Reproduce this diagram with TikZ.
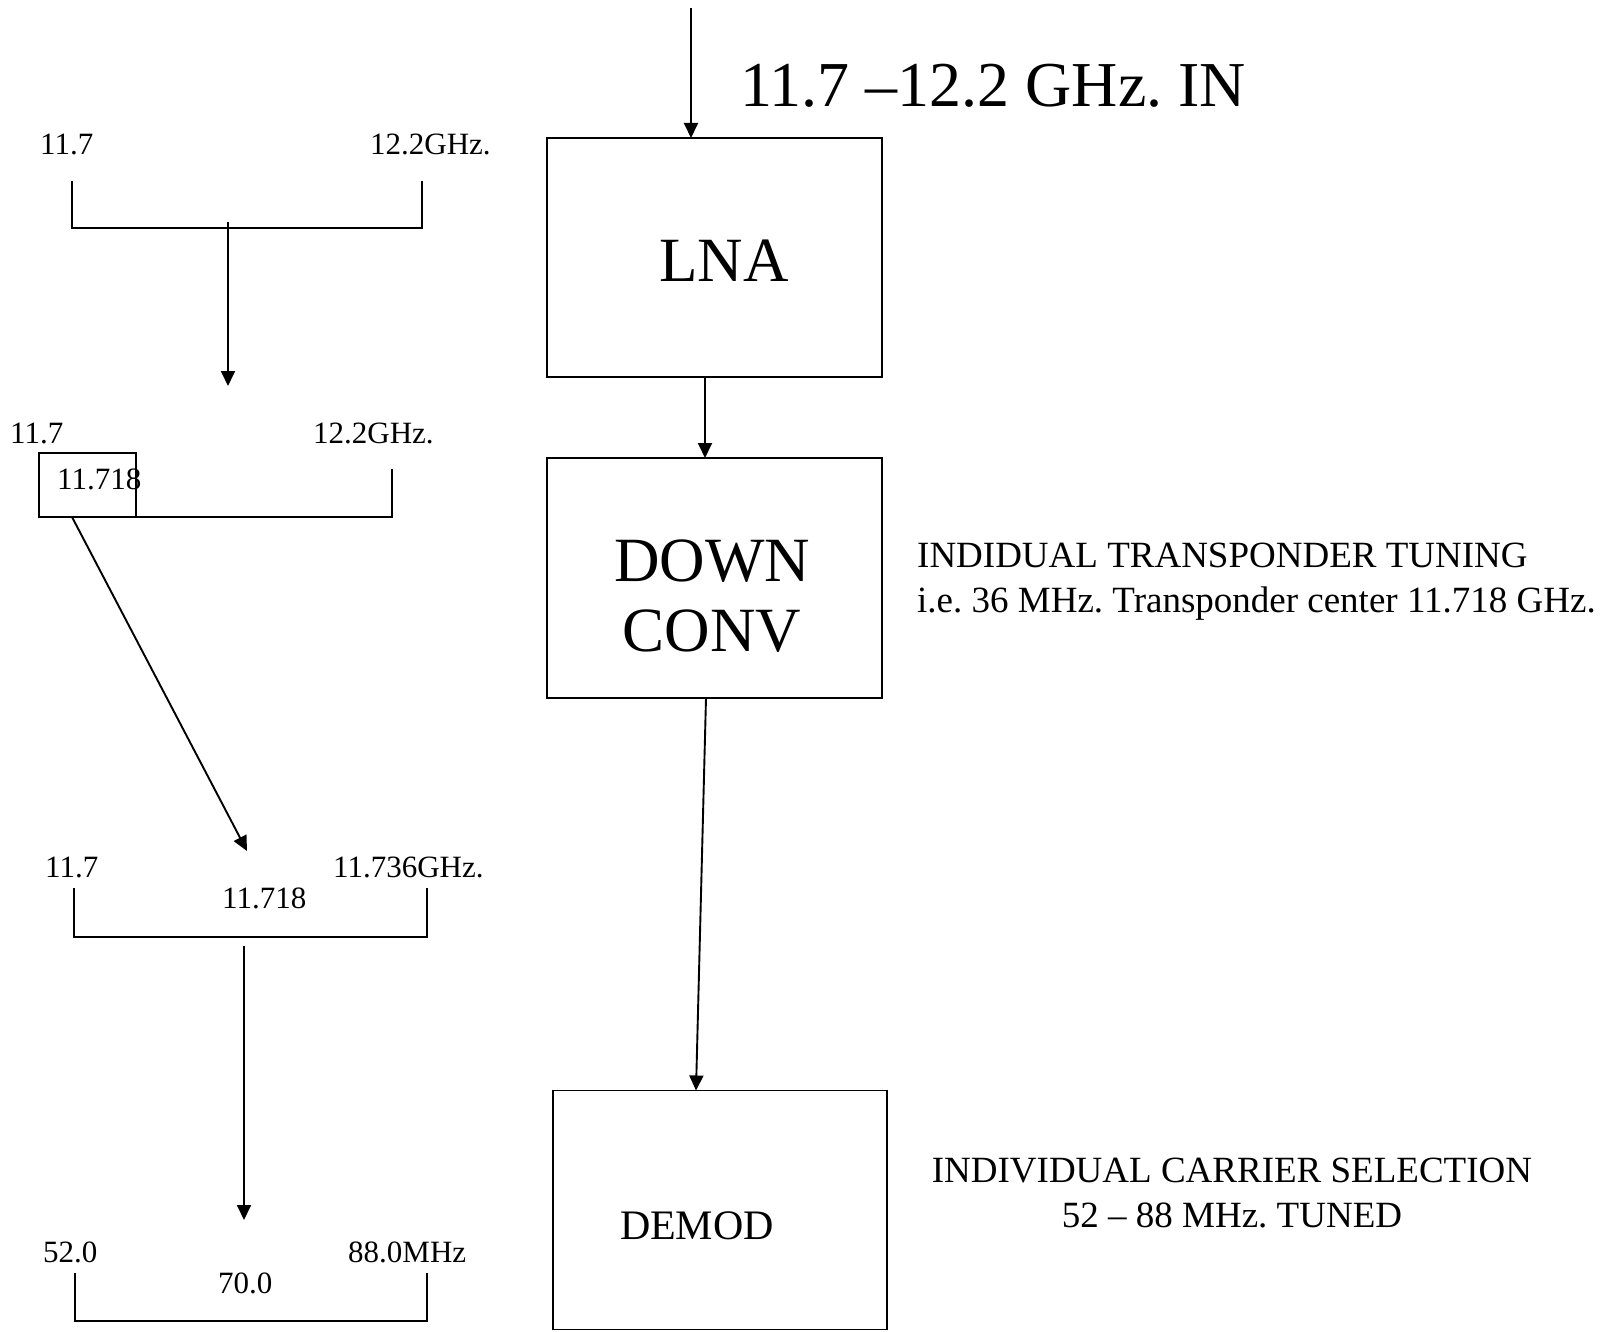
\documentclass[tikz,border=0pt]{standalone}
\usepackage{fontspec}
\setmainfont{Liberation Serif}
\usetikzlibrary{arrows.meta}
\frenchspacing
\newcommand{\fsz}[1]{\fontsize{#1}{#1}\selectfont\frenchspacing}
\tikzset{
  ln/.style={line width=1.9pt},
  arr/.style={line width=1.9pt,-{Triangle[length=15pt,width=14pt]}},
  blockbox/.style={draw,line width=1.9pt,inner sep=0pt,outer sep=0pt},
  small/.style={anchor=base west,inner sep=0pt,font=\fsz{31}},
  note/.style={anchor=base west,inner sep=0pt,font=\fsz{37}},
  big/.style={anchor=base,inner sep=0pt,font=\fsz{63}}
}
\begin{document}
\begin{tikzpicture}[x=1pt,y=-1pt]
\useasboundingbox (0,0) rectangle (1612,1332);

% ---- right chain ----
\node[blockbox,minimum width=335pt,minimum height=239pt] (lna) at (714.5,257.5) {};
\node[blockbox,minimum width=335pt,minimum height=240pt] (dc) at (714.5,578) {};
\node[blockbox,minimum width=334pt,minimum height=239pt] (dm) at (720,1210) {};

\node[big] (tlna) at (724,282) {LNA};
\node[big] (tdown) at (712,581) {DOWN};
\node[big] (tconv) at (712,651) {CONV};
\node[anchor=base,inner sep=0pt,font=\fsz{42}] (tdm) at (697,1239) {DEMOD};

\node[anchor=base west,inner sep=0pt,font=\fsz{64}] (tin) at (740,107) {11.7 –12.2 GHz. IN};

\coordinate (in) at (691,8);
\draw[arr] (in) -- (in |- lna.north);
\draw[arr] ([xshift=-9.5pt]lna.south) -- ([xshift=-9.5pt]dc.north);
\draw[arr] ([xshift=-8.5pt]dc.south) -- ([xshift=-24pt]dm.north);

\node[note] (n1) at (917,567) {INDIDUAL TRANSPONDER TUNING};
\node[note] (n2) at (917,612) {i.e. 36 MHz. Transponder center 11.718 GHz.};
\node[anchor=base,inner sep=0pt,font=\fsz{37}] (n3) at (1232,1182) {INDIVIDUAL CARRIER SELECTION};
\node[anchor=base,inner sep=0pt,font=\fsz{37}] (n4) at (1232,1227) {52 – 88 MHz. TUNED};

% ---- left column ----
% bracket 1
\node[small] (a1) at (40,155) {11.7};
\node[small] (a2) at (370,155) {12.2GHz.};
\draw[ln] (72,181) -- (72,228) -- (422,228) -- (422,181);
\coordinate (b1s) at (228,222);
\coordinate (b1e) at (228,386);
\draw[arr] (b1s) -- (b1e);

% bracket 2
\node[small] (c1) at (10,443) {11.7};
\node[small] (c2) at (313,443) {12.2GHz.};
\node[blockbox,minimum width=97pt,minimum height=64pt] (sel) at (87.5,485) {};
\node[small] (c3) at (57,489) {11.718};
\draw[ln] (sel.south east) -- (392,517) -- (392,469);
\coordinate (d1s) at (72,517);
\coordinate (d1e) at (247,851);
\draw[arr] (d1s) -- (d1e);

% bracket 3
\node[small] (e1) at (45,877) {11.7};
\node[small] (e2) at (333,877) {11.736GHz.};
\node[small] (e3) at (222,908) {11.718};
\draw[ln] (74,888) -- (74,937) -- (427,937) -- (427,888);
\coordinate (f1s) at (244,946);
\coordinate (f1e) at (244,1220);
\draw[arr] (f1s) -- (f1e);

% bracket 4
\node[small] (g1) at (43,1262) {52.0};
\node[small] (g2) at (348,1262) {88.0MHz};
\node[small] (g3) at (218,1293) {70.0};
\draw[ln] (75,1273) -- (75,1321) -- (427,1321) -- (427,1273);
\end{tikzpicture}
\end{document}
